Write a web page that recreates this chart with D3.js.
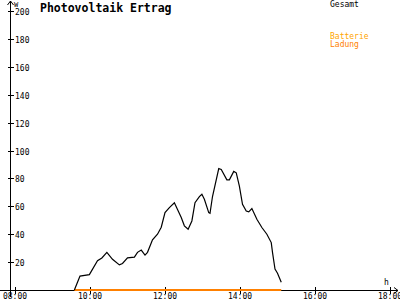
<!DOCTYPE html>
<html>
<head>
<meta charset="utf-8">
<script src="https://cdn.jsdelivr.net/npm/d3@7"></script>
<style>
  body { margin: 0; background: #fff; }
  text { font-family: "DejaVu Sans Mono", monospace; }
</style>
</head>
<body>
<script>
// data
const times = ["09:35","09:44","09:59","10:12","10:19","10:27","10:36","10:47","10:52","11:00",
  "11:11","11:16","11:22","11:28","11:32","11:40","11:48","11:54","12:00","12:07",
  "12:15","12:26","12:31","12:37","12:43","12:48","12:55","12:59","13:03","13:10",
  "13:12","13:16","13:26","13:30","13:39","13:43","13:50","13:54","13:59","14:04",
  "14:10","14:14","14:19","14:27","14:35","14:43","14:50","14:52","14:56","15:00","15:06"];
const gesamt = [0,10,11,21,23,27,22,18,19,23,
  23.6,27,28.6,25,27,36,40,45,55.5,59,
  62.5,52,46,43.6,49.5,62.6,67,68.6,65,55.5,
  55,67,87,86.4,79,79,85,84,74.5,61.4,
  56.6,56,58.4,50.7,44.8,40,34,27,15,12,5.5];
const ladung = times.map(() => 0);
const yTicks = [20,40,60,80,100,120,140,160,180,200];
const xTicks = ["08:00","10:00","12:00","14:00","16:00","18:00"];

const width = 400, height = 300;
const parse = d3.timeParse("%H:%M");

const svg = d3.select("body").append("svg")
  .attr("width", width).attr("height", height);

const xScale = d3.scaleTime()
  .domain([parse("08:00"), parse("18:00")])
  .range([15, 390]);
const yScale = d3.scaleLinear().domain([0, 200]).range([290, 11]);

// axis lines
svg.append("line").attr("x1", 0).attr("x2", 398).attr("y1", 290.5).attr("y2", 290.5)
  .attr("stroke", "#000");
svg.append("path").attr("d", "M394,287.5 L398,290.5 L394,293.5").attr("fill", "none").attr("stroke", "#000");
svg.append("line").attr("x1", 10.5).attr("x2", 10.5).attr("y1", 1).attr("y2", 297)
  .attr("stroke", "#000");
svg.append("path").attr("d", "M7.5,5 L10.5,1 L13.5,5").attr("fill", "none").attr("stroke", "#000");

// y ticks
const yAxis = svg.append("g");
yAxis.selectAll("line").data(yTicks).enter().append("line")
  .attr("x1", 8).attr("x2", 14)
  .attr("y1", d => Math.round(yScale(d)) + 0.5)
  .attr("y2", d => Math.round(yScale(d)) + 0.5)
  .attr("stroke", "#000");
yAxis.selectAll("text").data(yTicks).enter().append("text")
  .attr("x", 15).attr("y", d => yScale(d) + 4)
  .style("font-size", "8px")
  .text(d => d);

// x ticks
const xAxis = svg.append("g");
xAxis.selectAll("line").data(xTicks).enter().append("line")
  .attr("x1", d => Math.round(xScale(parse(d))) + 0.5)
  .attr("x2", d => Math.round(xScale(parse(d))) + 0.5)
  .attr("y1", 287).attr("y2", 294)
  .attr("stroke", "#000");
xAxis.selectAll("text").data(xTicks).enter().append("text")
  .attr("x", d => xScale(parse(d))).attr("y", 299)
  .attr("text-anchor", "middle")
  .style("font-size", "8px")
  .text(d => d);

svg.append("text").attr("x", 14).attr("y", 7).style("font-size", "7px").text("W");
svg.append("text").attr("x", 384).attr("y", 285).style("font-size", "8px").text("h");

// title + legend
svg.append("text").attr("x", 40).attr("y", 12)
  .style("font-size", "11.5px").style("font-weight", "bold")
  .text("Photovoltaik Ertrag");
svg.append("text").attr("x", 330).attr("y", 7).style("font-size", "8px").text("Gesamt");
svg.append("text").attr("x", 330).attr("y", 39).style("font-size", "8px")
  .attr("fill", "#ffa500").text("Batterie");
svg.append("text").attr("x", 330).attr("y", 47).style("font-size", "8px")
  .attr("fill", "#ff8000").text("Ladung");

// series
const line = d3.line()
  .x((d, i) => xScale(parse(times[i])))
  .y(d => yScale(d));

svg.append("path").datum(ladung).attr("d", line)
  .attr("fill", "none").attr("stroke", "#ff8000").attr("stroke-width", 2);
svg.append("path").datum(gesamt).attr("d", line)
  .attr("fill", "none").attr("stroke", "#000").attr("stroke-width", 1.2);
</script>
</body>
</html>
